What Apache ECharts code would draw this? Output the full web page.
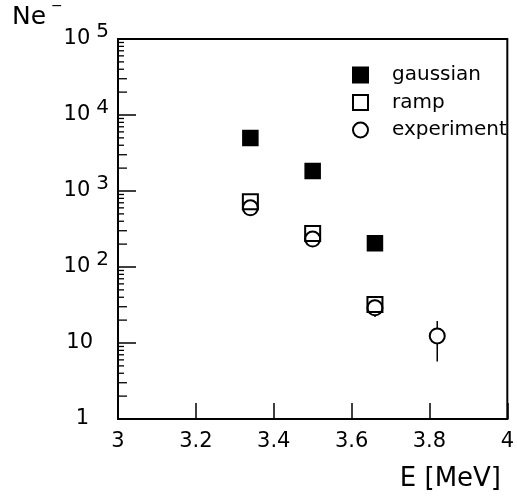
<!DOCTYPE html>
<html>
<head>
<meta charset="utf-8">
<script src="https://cdn.jsdelivr.net/npm/echarts@6/dist/echarts.min.js"></script>
<style>
  html, body { margin: 0; padding: 0; background: #fff; }
  #chart { width: 517px; height: 499px; }
</style>
</head>
<body>
<div id="chart"></div>
<script>
// Electron yield versus beam energy (log scale)
const energies = [3.34, 3.5, 3.66];
const gaussian = [5000, 1830, 205];
const ramp = [720, 275, 32];
const expEnergies = [3.34, 3.5, 3.66, 3.82];
const experiment = [600, 233, 29, 12.4];
const expLow = [530, 205, 22, 5.7];
const expHigh = [680, 265, 37, 19.5];
const xTicks = [3, 3.2, 3.4, 3.6, 3.8, 4];
const yDecades = [1, 10, 100, 1000, 10000, 100000];

// minor tick positions on the log axis: 2..9 times each decade
const minorMantissas = [2, 3, 4, 5, 6, 7, 8, 9];
const minorTicks = [];
yDecades.slice(0, -1).forEach(d => minorMantissas.forEach(m => minorTicks.push(m * d)));

const FONT = 'DejaVu Sans';
const chart = echarts.init(document.getElementById('chart'), null, { renderer: 'canvas' });

const MARK = 15;

chart.setOption({
  animation: false,
  backgroundColor: '#fff',
  grid: { left: 118, right: 7, top: 39, bottom: 80, show: true, borderColor: '#000', borderWidth: 2 },
  legend: {
    orient: 'vertical',
    left: 347,
    top: 60,
    itemWidth: 15,
    itemHeight: 15,
    itemGap: 7.5,
    data: ['gaussian', 'ramp', 'experiment'],
    textStyle: { fontFamily: FONT, fontSize: 20, color: '#000', lineHeight: 20, padding: [0, 0, 0, 19] }
  },
  xAxis: {
    type: 'value',
    min: 3, max: 4, interval: 0.2,
    axisLine: { lineStyle: { color: '#000', width: 2 } },
    axisTick: { inside: true, length: 16, lineStyle: { color: '#000', width: 1.5 } },
    splitLine: { show: false },
    axisLabel: {
      margin: 12,
      fontFamily: FONT, fontSize: 21, color: '#000',
      formatter: v => {
        const t = xTicks.find(x => Math.abs(x - v) < 1e-6);
        return t === undefined ? '' : String(t);
      }
    }
  },
  yAxis: {
    type: 'log',
    logBase: 10,
    min: 1, max: 100000,
    axisLine: { lineStyle: { color: '#000', width: 2 } },
    axisTick: { inside: true, length: 18, lineStyle: { color: '#000', width: 1.5 } },
    splitLine: { show: false },
    axisLabel: {
      margin: 9,
      align: 'right',
      fontFamily: FONT, color: '#000',
      formatter: v => {
        const k = Math.round(Math.log10(v));
        if (k === 0) return '{b|1}{p| }';
        if (k === 1) return '{b|10}{q| }';
        return '{b|10}{e|' + k + '}';
      },
      rich: {
        b: { fontFamily: FONT, fontSize: 21, lineHeight: 22, color: '#000', verticalAlign: 'middle' },
        e: { fontFamily: FONT, fontSize: 20, lineHeight: 22, color: '#000', padding: [0, 0, 14, 6], verticalAlign: 'middle' },
        p: { fontSize: 10, width: 20 },
        q: { fontSize: 10, width: 16 }
      }
    }
  },
  graphic: [
    { type: 'text', left: 12, top: 5, style: { text: 'Ne', fontFamily: FONT, fontSize: 25, fill: '#000' } },
    { type: 'text', left: 51, top: -1, style: { text: '\u2212', fontFamily: FONT, fontSize: 14, fill: '#000' } },
    { type: 'text', right: 16, top: 466, style: { text: 'E [MeV]', fontFamily: FONT, fontSize: 26, fill: '#000' } }
  ],
  series: [
    {
      // logarithmic minor ticks along the left axis
      name: 'minorTicks',
      type: 'custom',
      silent: true,
      legendHoverLink: false,
      data: minorTicks.map(v => [3, v]),
      renderItem: (params, api) => {
        const v = api.value(1);
        const m = Math.round(v / Math.pow(10, Math.floor(Math.log10(v) + 1e-9)));
        const len = m <= 3 ? 9 : 6;
        const p = api.coord([3, v]);
        return {
          type: 'line',
          shape: { x1: p[0], y1: p[1], x2: p[0] + len, y2: p[1] },
          style: { stroke: '#000', lineWidth: 1.3 }
        };
      },
      z: 1
    },
    {
      name: 'gaussian',
      type: 'scatter',
      symbol: 'rect',
      symbolSize: MARK,
      data: energies.map((e, i) => [e, gaussian[i]]),
      itemStyle: { color: '#000', borderColor: '#000', borderWidth: 1.5, opacity: 1 },
      z: 3
    },
    {
      name: 'ramp',
      type: 'scatter',
      symbol: 'rect',
      symbolSize: MARK,
      data: energies.map((e, i) => [e, ramp[i]]),
      itemStyle: { color: 'rgba(255,255,255,0)', borderColor: '#000', borderWidth: 2, opacity: 1 },
      z: 3
    },
    {
      name: 'experiment',
      type: 'scatter',
      symbol: 'circle',
      symbolSize: MARK,
      data: expEnergies.map((e, i) => [e, experiment[i]]),
      itemStyle: { color: 'rgba(255,255,255,0)', borderColor: '#000', borderWidth: 2, opacity: 1 },
      z: 3
    },
    {
      // error bars for the measured points, drawn outside the marker
      name: 'experimentErr',
      type: 'custom',
      silent: true,
      data: expEnergies.map((e, i) => [e, expLow[i], expHigh[i], experiment[i]]),
      renderItem: (params, api) => {
        const c = api.coord([api.value(0), api.value(3)]);
        const lo = api.coord([api.value(0), api.value(1)]);
        const hi = api.coord([api.value(0), api.value(2)]);
        const r = MARK / 2;
        const children = [];
        if (hi[1] < c[1] - r) children.push({ type: 'line', shape: { x1: c[0], y1: hi[1], x2: c[0], y2: c[1] - r }, style: { stroke: '#000', lineWidth: 1.5 } });
        if (lo[1] > c[1] + r) children.push({ type: 'line', shape: { x1: c[0], y1: c[1] + r, x2: c[0], y2: lo[1] }, style: { stroke: '#000', lineWidth: 1.5 } });
        return { type: 'group', children };
      },
      z: 2
    }
  ]
});
</script>
</body>
</html>
